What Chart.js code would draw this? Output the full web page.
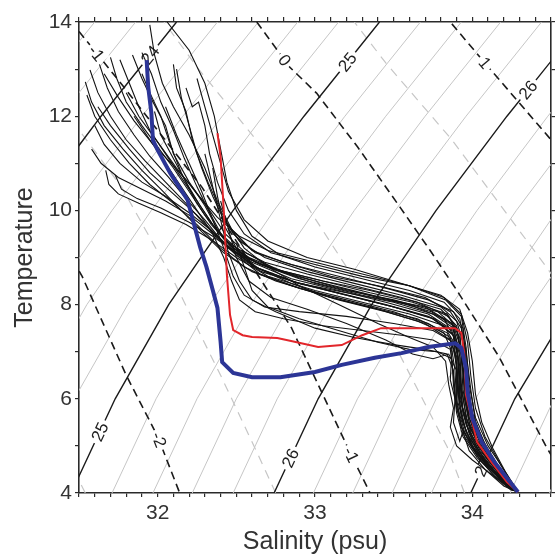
<!DOCTYPE html>
<html>
<head>
<meta charset="utf-8">
<script src="https://cdn.jsdelivr.net/npm/chart.js@4.4.1/dist/chart.umd.min.js"></script>
<style>
  html, body { margin: 0; padding: 0; background: #fff; }
  #wrap { width: 555px; height: 556px; }
</style>
</head>
<body>
<div id="wrap"><canvas id="tsChart" width="555" height="556"></canvas></div>
<script>
// --- DATA: axes ---
const salinityTicks = [32, 33, 34];
const temperatureTicks = [4, 6, 8, 10, 12, 14];

// --- DATA: sigma-t isopycnals, salinity read at these temperatures ---
const isoT = [4, 6, 8, 10, 12, 14];
const sigmaLevels = [23.6, 23.8, 24, 24.2, 24.4, 24.6, 24.8, 25, 25.2, 25.4, 25.6, 25.8,
                     26, 26.2, 26.4, 26.6, 26.8, 27, 27.2, 27.4];
const sigmaSalinity = [
  [29.64, 29.92, 30.26, 30.67, 31.12, 31.60],
  [29.90, 30.18, 30.52, 30.93, 31.38, 31.86],
  [30.16, 30.44, 30.78, 31.19, 31.64, 32.12],
  [30.42, 30.70, 31.04, 31.45, 31.90, 32.38],
  [30.68, 30.96, 31.30, 31.71, 32.16, 32.64],
  [30.93, 31.21, 31.55, 31.96, 32.41, 32.89],
  [31.19, 31.47, 31.81, 32.22, 32.67, 33.15],
  [31.45, 31.73, 32.07, 32.48, 32.93, 33.41],
  [31.71, 31.99, 32.33, 32.74, 33.19, 33.67],
  [31.97, 32.25, 32.59, 33.00, 33.45, 33.93],
  [32.22, 32.50, 32.84, 33.25, 33.70, 34.18],
  [32.48, 32.76, 33.10, 33.51, 33.96, 34.44],
  [32.74, 33.02, 33.36, 33.77, 34.22, 34.70],
  [32.99, 33.27, 33.62, 34.03, 34.48, 34.96],
  [33.24, 33.52, 33.87, 34.28, 34.73, 35.22],
  [33.49, 33.77, 34.13, 34.54, 34.99, 35.47],
  [33.74, 34.02, 34.38, 34.79, 35.25, 35.73],
  [33.99, 34.27, 34.63, 35.04, 35.50, 35.99],
  [34.24, 34.52, 34.89, 35.30, 35.76, 36.25],
  [34.49, 34.77, 35.14, 35.56, 36.02, 36.51]
];

// --- DATA: spiciness lines [S, T] ---
const spiceMajor = {
  '-2': [[31.46, 8.95], [31.52, 8.6], [31.80, 6.5], [32.0, 5.2], [32.14, 4.0]],
  '-1': [[31.5, 13.8], [31.79, 12.6], [32.28, 10.5], [32.85, 7.51], [33.23, 4.81], [33.35, 4.0]],
  '0':  [[32.63, 14.0], [32.84, 13.04], [33.01, 12.49], [33.27, 11.35], [33.54, 10.07], [33.73, 9.16],
         [33.90, 8.31], [34.17, 6.89], [34.47, 4.98], [34.52, 4.7]],
  '1':  [[33.87, 13.96], [34.08, 13.13], [34.5, 11.5], [34.6, 11.2]]
};
const spiceMinor = [
  [[31.54, 4.0], [31.42, 4.8]],
  [[32.75, 4.0], [32.64, 4.8], [32.40, 6.5], [32.08, 8.65], [31.77, 10.5], [31.3, 12.6]],
  [[33.95, 4.0], [33.84, 4.98], [33.45, 7.51], [32.87, 10.5], [32.26, 13.0], [32.04, 14.0]],
  [[34.58, 8.3], [34.39, 9.16], [33.87, 11.5], [33.45, 13.13], [33.25, 14.0]],
  [[34.5, 14.1], [34.7, 13.3]]
];

// --- DATA: contour labels (line + temperature where the label sits) ---
const labelSpots = [
  { text: '24', sigma: 24, t: 13.3 },
  { text: '25', sigma: 25, t: 5.3 },
  { text: '25', sigma: 25, t: 13.15 },
  { text: '26', sigma: 26, t: 4.74 },
  { text: '26', sigma: 26, t: 12.56 },
  { text: '27', sigma: 27, t: 4.55 },
  { text: '-2', spice: '-2', t: 5.13 },
  { text: '-1', spice: '-1', t: 13.34 },
  { text: '-1', spice: '-1', t: 4.81 },
  { text: '0',  spice: '0',  t: 13.19 },
  { text: '1',  spice: '1',  t: 13.13 }
];

// --- DATA: CTD casts [salinity, temperature] ---
const redCast = [[32.38, 11.64], [32.40, 11.13], [32.42, 10.01], [32.44, 8.63], [32.46, 7.78], [32.48, 7.46],
  [32.54, 7.35], [32.60, 7.31], [32.76, 7.29], [32.87, 7.21], [33.02, 7.10], [33.17, 7.14], [33.30, 7.35],
  [33.42, 7.50], [33.63, 7.50], [33.89, 7.50], [33.93, 7.40], [33.95, 6.93], [33.96, 6.08], [34.0, 5.51],
  [34.03, 5.08], [34.12, 4.66], [34.22, 4.23], [34.29, 4.02]];

const blueCast = [[31.93, 13.19], [31.94, 12.62], [31.96, 12.07], [31.97, 11.49], [32.0, 11.28], [32.08, 10.79],
  [32.19, 10.22], [32.27, 9.22], [32.31, 8.80], [32.35, 8.31], [32.38, 7.93], [32.40, 7.21], [32.41, 6.78],
  [32.48, 6.55], [32.60, 6.46], [32.78, 6.46], [33.0, 6.57], [33.17, 6.72], [33.38, 6.87], [33.55, 6.97],
  [33.72, 7.10], [33.89, 7.18], [33.93, 7.08], [33.96, 6.65], [33.97, 6.14], [34.0, 5.59], [34.06, 5.08],
  [34.14, 4.66], [34.22, 4.32], [34.29, 4.02]];

const blackCasts = [
  [[32.06,14.0],[32.2,13.4],[32.3,12.7],[32.36,12.0],[32.4,11.3],[32.44,10.6],[32.5,10.0],[32.6,9.45],[32.78,9.05],[33.0,8.8],[33.3,8.55],[33.6,8.3],[33.82,8.05],[33.92,7.7],[33.96,7.0],[33.99,6.2],[34.02,5.5],[34.1,4.9],[34.2,4.4],[34.29,4.02]],
  [[31.95,13.94],[31.98,13.3],[32.03,12.7],[32.1,12.2],[32.2,11.6],[32.3,10.9],[32.38,10.2],[32.47,9.6],[32.6,9.15],[32.8,8.9],[33.1,8.6],[33.4,8.4],[33.7,8.15],[33.86,7.85],[33.93,7.5],[33.95,6.8],[33.97,6.0],[34.03,5.3],[34.12,4.75],[34.22,4.3],[34.28,4.05]],
  [[31.9,13.35],[31.96,12.9],[32.02,12.3],[32.1,11.7],[32.17,11.1],[32.25,10.5],[32.33,9.95],[32.42,9.4],[32.55,9.0],[32.75,8.75],[33.05,8.5],[33.35,8.3],[33.65,8.05],[33.85,7.75],[33.92,7.3],[33.94,6.6],[33.96,5.9],[34.02,5.3],[34.1,4.8],[34.2,4.35],[34.28,4.05]],
  [[31.84,13.3],[31.9,12.8],[31.97,12.3],[32.05,11.8],[32.1,11.2],[32.2,10.6],[32.3,10.1],[32.38,9.6],[32.5,9.1],[32.7,8.8],[33.0,8.45],[33.3,8.2],[33.6,8.0],[33.82,7.7],[33.9,7.2],[33.92,6.5],[33.94,5.8],[34.0,5.2],[34.1,4.7],[34.2,4.3],[34.27,4.05]],
  [[31.76,13.2],[31.82,12.7],[31.88,12.2],[31.95,11.7],[32.05,11.2],[32.15,10.7],[32.25,10.2],[32.35,9.7],[32.48,9.2],[32.65,8.85],[32.9,8.55],[33.2,8.3],[33.5,8.1],[33.78,7.85],[33.9,7.5],[33.93,6.9],[33.94,6.2],[33.98,5.5],[34.06,4.9],[34.17,4.4],[34.27,4.05]],
  [[31.7,13.25],[31.74,12.8],[31.8,12.3],[31.9,11.8],[32.0,11.35],[32.1,10.9],[32.2,10.4],[32.3,9.9],[32.42,9.4],[32.58,9.0],[32.8,8.7],[33.1,8.4],[33.4,8.15],[33.7,7.95],[33.87,7.6],[33.92,7.0],[33.93,6.3],[33.96,5.6],[34.04,5.0],[34.15,4.5],[34.26,4.08]],
  [[31.63,13.1],[31.68,12.6],[31.75,12.1],[31.85,11.6],[31.95,11.15],[32.07,10.7],[32.18,10.25],[32.3,9.8],[32.42,9.3],[32.6,8.9],[32.85,8.55],[33.15,8.3],[33.45,8.05],[33.72,7.8],[33.88,7.45],[33.91,6.8],[33.92,6.0],[33.97,5.4],[34.05,4.9],[34.16,4.45],[34.27,4.05]],
  [[31.57,12.98],[31.62,12.5],[31.7,12.0],[31.8,11.5],[31.92,11.05],[32.05,10.6],[32.18,10.15],[32.3,9.7],[32.45,9.2],[32.62,8.8],[32.9,8.45],[33.2,8.2],[33.5,7.95],[33.75,7.7],[33.88,7.35],[33.9,6.7],[33.92,5.9],[33.96,5.3],[34.04,4.85],[34.15,4.4],[34.26,4.05]],
  [[31.54,12.73],[31.58,12.3],[31.66,11.8],[31.78,11.3],[31.9,10.85],[32.02,10.45],[32.15,10.0],[32.28,9.55],[32.42,9.1],[32.6,8.7],[32.85,8.4],[33.15,8.1],[33.45,7.85],[33.7,7.6],[33.86,7.25],[33.89,6.6],[33.9,5.9],[33.95,5.3],[34.03,4.8],[34.14,4.35],[34.25,4.05]],
  [[31.55,12.45],[31.6,12.0],[31.7,11.5],[31.82,11.0],[31.95,10.55],[32.1,10.15],[32.25,9.7],[32.4,9.2],[32.55,8.8],[32.75,8.5],[33.05,8.2],[33.35,7.95],[33.65,7.7],[33.84,7.4],[33.9,6.9],[33.91,6.2],[33.93,5.6],[34.0,5.0],[34.1,4.55],[34.22,4.2],[34.28,4.03]],
  [[31.67,10.85],[31.69,10.55],[31.75,10.35],[31.88,10.15],[32.02,9.95],[32.18,9.7],[32.33,9.4],[32.5,9.0],[32.7,8.6],[33.0,8.3],[33.3,8.05],[33.6,7.8],[33.82,7.55],[33.9,7.1],[33.92,6.4],[33.94,5.7],[34.0,5.1],[34.1,4.6],[34.22,4.2],[34.28,4.03]],
  [[31.73,10.75],[31.77,10.45],[31.87,10.25],[32.02,10.05],[32.2,9.75],[32.35,9.45],[32.5,9.1],[32.65,8.75],[32.9,8.45],[33.2,8.2],[33.5,7.95],[33.76,7.7],[33.88,7.35],[33.92,6.7],[33.93,5.9],[33.98,5.25],[34.07,4.75],[34.18,4.3],[34.27,4.04]],
  [[31.6,11.8],[31.66,11.4],[31.76,11.0],[31.9,10.6],[32.05,10.3],[32.2,9.95],[32.35,9.55],[32.48,9.15],[32.62,8.8],[32.85,8.5],[33.15,8.25],[33.45,8.0],[33.72,7.75],[33.87,7.45],[33.91,6.9],[33.92,6.1],[33.96,5.45],[34.04,4.9],[34.15,4.45],[34.26,4.06]],
  [[32.1,13.1],[32.12,12.6],[32.18,12.1],[32.22,11.5],[32.28,10.9],[32.35,10.3],[32.42,9.8],[32.52,9.35],[32.68,9.0],[32.95,8.7],[33.25,8.45],[33.55,8.2],[33.8,7.95],[33.9,7.65],[33.95,7.1],[33.97,6.4],[34.0,5.7],[34.07,5.1],[34.17,4.55],[34.27,4.07]],
  [[32.18,12.6],[32.22,12.2],[32.26,12.3],[32.3,11.8],[32.33,11.2],[32.38,10.6],[32.45,10.0],[32.55,9.5],[32.72,9.1],[33.0,8.85],[33.3,8.6],[33.6,8.4],[33.82,8.15],[33.93,7.8],[33.97,7.2],[33.99,6.5],[34.02,5.8],[34.08,5.2],[34.18,4.6],[34.27,4.1]],
  [[31.98,12.1],[32.02,11.6],[32.1,11.1],[32.18,10.6],[32.27,10.1],[32.37,9.6],[32.5,9.2],[32.68,8.9],[32.95,8.65],[33.25,8.4],[33.55,8.15],[33.8,7.9],[33.9,7.55],[33.93,6.95],[33.95,6.3],[33.98,5.6],[34.05,5.05],[34.15,4.55],[34.26,4.1]],
  [[32.05,12.2],[32.12,11.6],[32.2,11.0],[32.28,10.4],[32.35,9.8],[32.42,9.2],[32.48,8.6],[32.55,8.2],[32.68,7.95],[32.9,7.85],[33.2,7.75],[33.5,7.6],[33.75,7.45],[33.88,7.2],[33.9,6.6],[33.91,5.9],[33.96,5.3],[34.05,4.8],[34.17,4.35],[34.26,4.06]],
  [[31.85,12.0],[31.95,11.5],[32.05,11.0],[32.15,10.5],[32.25,10.0],[32.35,9.5],[32.42,9.0],[32.47,8.5],[32.52,8.1],[32.62,7.85],[32.8,7.7],[33.05,7.55],[33.3,7.45],[33.55,7.35],[33.75,7.25],[33.86,7.05],[33.88,6.5],[33.9,5.8],[33.95,5.2],[34.05,4.7],[34.18,4.3],[34.27,4.04]],
  [[32.3,11.2],[32.35,10.5],[32.4,9.8],[32.45,9.1],[32.52,8.5],[32.6,8.1],[32.75,7.85],[33.0,7.5],[33.25,7.3],[33.5,7.15],[33.7,7.05],[33.84,6.95],[33.88,6.6],[33.89,6.0],[33.93,5.4],[34.02,4.9],[34.13,4.45],[34.25,4.08]],
  [[32.4,10.2],[32.45,9.6],[32.5,9.0],[32.58,8.5],[32.72,8.15],[32.95,7.9],[33.2,7.6],[33.45,7.25],[33.62,6.95],[33.75,6.85],[33.85,6.95],[33.9,6.6],[33.9,6.0],[33.93,5.4],[34.0,4.95],[34.1,4.55],[34.22,4.2],[34.28,4.03]],
  [[32.45,9.7],[32.55,9.2],[32.7,8.8],[32.9,8.4],[33.15,8.0],[33.4,7.6],[33.6,7.3],[33.75,7.1],[33.83,6.8],[33.85,6.3],[33.88,5.8],[33.86,5.4],[33.9,5.0],[34.0,4.7],[34.12,4.4],[34.24,4.1]],
  [[32.25,12.8],[32.3,12.2],[32.35,11.6],[32.4,11.0],[32.45,10.4],[32.55,9.8],[32.7,9.35],[32.95,9.0],[33.25,8.75],[33.55,8.45],[33.8,8.2],[33.92,7.9],[33.97,7.4],[34.0,6.8],[34.02,6.1],[34.06,5.5],[34.13,4.95],[34.21,4.45],[34.29,4.03]],
  [[31.8,12.5],[31.88,12.0],[32.0,11.45],[32.12,10.9],[32.25,10.35],[32.38,9.85],[32.52,9.45],[32.7,9.15],[33.0,8.9],[33.3,8.65],[33.6,8.4],[33.83,8.1],[33.93,7.75],[33.96,7.1],[33.98,6.3],[34.02,5.6],[34.1,5.0],[34.2,4.5],[34.28,4.06]],
  [[31.62,12.2],[31.7,11.8],[31.82,11.3],[31.95,10.8],[32.1,10.35],[32.25,9.9],[32.38,9.45],[32.5,9.05],[32.65,8.65],[32.9,8.35],[33.2,8.1],[33.5,7.85],[33.72,7.6],[33.86,7.3],[33.9,6.75],[33.91,6.1],[33.94,5.5],[34.0,5.0],[34.1,4.55],[34.22,4.15],[34.28,4.03]],
  [[31.66,12.9],[31.75,12.4],[31.85,11.9],[31.97,11.4],[32.1,10.95],[32.22,10.5],[32.33,10.0],[32.43,9.5],[32.56,9.1],[32.75,8.75],[33.05,8.5],[33.35,8.25],[33.62,8.05],[33.84,7.8],[33.92,7.4],[33.94,6.7],[33.95,6.0],[33.99,5.35],[34.08,4.85],[34.19,4.4],[34.27,4.05]],
  [[32.35,10.9],[32.38,10.3],[32.42,9.7],[32.5,9.2],[32.62,8.8],[32.85,8.45],[33.1,8.15],[33.4,7.9],[33.65,7.65],[33.82,7.4],[33.87,7.0],[33.86,6.4],[33.89,6.0],[33.88,5.5],[33.92,5.1],[33.94,5.3],[33.98,4.9],[34.08,4.5],[34.2,4.15],[34.27,4.04]],
  [[31.58,11.3],[31.64,11.0],[31.75,10.7],[31.9,10.45],[32.05,10.2],[32.2,9.9],[32.35,9.5],[32.5,9.05],[32.66,8.7],[32.9,8.45],[33.2,8.25],[33.5,8.05],[33.75,7.8],[33.88,7.5],[33.92,6.9],[33.93,6.2],[33.97,5.5],[34.05,4.95],[34.16,4.45],[34.27,4.05]],
  [[32.12,13.0],[32.15,12.4],[32.2,11.8],[32.25,11.2],[32.32,10.6],[32.4,10.0],[32.48,9.5],[32.62,9.1],[32.85,8.85],[33.15,8.6],[33.45,8.35],[33.72,8.1],[33.88,7.85],[33.94,7.5],[33.96,6.8],[33.97,6.0],[34.01,5.4],[34.09,4.85],[34.19,4.4],[34.28,4.04]],
  [[31.9,12.9],[31.95,12.5],[32.02,12.0],[32.08,11.4],[32.15,10.8],[32.24,10.2],[32.34,9.7],[32.46,9.25],[32.62,8.9],[32.88,8.6],[33.18,8.35],[33.48,8.1],[33.74,7.85],[33.88,7.55],[33.93,7.05],[33.95,6.35],[33.97,5.7],[34.03,5.1],[34.13,4.6],[34.24,4.15],[34.29,4.03]],
  [[32.5,9.3],[32.55,8.8],[32.6,8.3],[32.7,7.95],[32.9,7.7],[33.15,7.45],[33.4,7.2],[33.6,7.05],[33.78,7.0],[33.87,6.85],[33.88,6.3],[33.9,5.7],[33.94,5.2],[34.03,4.75],[34.15,4.35],[34.26,4.05]]
];

// --- STYLE ---
const FONT = '"Liberation Sans", Arial, Helvetica, sans-serif';
const TEXT_COLOR = '#333';
const AXIS_COLOR = '#2a2a2a';

// --- HELPERS ---
const toXY = pts => pts.map(([s, t]) => ({ x: s, y: t }));
const sigmaPts = i => isoT.map((t, k) => [sigmaSalinity[i][k], t]);

function lineFor(spot) {
  if (spot.sigma !== undefined) return sigmaPts(sigmaLevels.indexOf(spot.sigma));
  return spiceMajor[spot.spice];
}

function findOnLine(pts, t) {
  for (let i = 0; i < pts.length - 1; i++) {
    const [s0, t0] = pts[i], [s1, t1] = pts[i + 1];
    if (t0 !== t1 && (t - t0) * (t - t1) <= 0) {
      const f = (t - t0) / (t1 - t0);
      return { s: s0 + f * (s1 - s0), a: pts[i], b: pts[i + 1] };
    }
  }
  return null;
}

function lineSet(pts, color, width, order, dash) {
  return {
    data: toXY(pts), showLine: true, borderColor: color, borderWidth: width,
    borderDash: dash || [], pointRadius: 0, fill: false, order: order, clip: 0
  };
}

// --- DATASETS ---
const datasets = [];
sigmaLevels.forEach((lev, i) => {
  const major = Number.isInteger(lev);
  datasets.push(lineSet(sigmaPts(i), major ? '#1a1a1a' : '#c6c6c6', major ? 1.4 : 1, major ? 10 : 12));
});
Object.values(spiceMajor).forEach(pts => datasets.push(lineSet(pts, '#1a1a1a', 1.6, 10, [8, 5])));
spiceMinor.forEach(pts => datasets.push(lineSet(pts, '#c6c6c6', 1.2, 12, [9, 7])));
datasets.push({ label: 'labelLayer', data: [], order: 5 });
blackCasts.forEach(pts => datasets.push(lineSet(pts, '#121212', 1.1, 3)));
datasets.push(lineSet(redCast, '#e2262b', 2, 2));
datasets.push(lineSet(blueCast, '#2c3596', 4, 1));

// --- PLUGIN: contour labels, drawn after contours and before casts ---
const contourLabels = {
  id: 'contourLabels',
  afterDatasetDraw(chart, args) {
    if (chart.data.datasets[args.index].label !== 'labelLayer') return;
    const { ctx, chartArea: area, scales: { x, y } } = chart;
    ctx.save();
    ctx.beginPath();
    ctx.rect(area.left, area.top, area.right - area.left, area.bottom - area.top);
    ctx.clip();
    ctx.font = '17px ' + FONT;
    ctx.textAlign = 'center';
    ctx.textBaseline = 'middle';
    labelSpots.forEach(spot => {
      const hit = findOnLine(lineFor(spot), spot.t);
      if (!hit) return;
      const px = x.getPixelForValue(hit.s), py = y.getPixelForValue(spot.t);
      let dx = x.getPixelForValue(hit.b[0]) - x.getPixelForValue(hit.a[0]);
      let dy = y.getPixelForValue(hit.b[1]) - y.getPixelForValue(hit.a[1]);
      if (dx < 0) { dx = -dx; dy = -dy; }
      ctx.save();
      ctx.translate(px, py);
      ctx.rotate(Math.atan2(dy, dx));
      const w = ctx.measureText(spot.text).width + 6;
      ctx.fillStyle = '#fff';
      ctx.fillRect(-w / 2, -8, w, 16);
      ctx.fillStyle = '#222';
      ctx.fillText(spot.text, 0, 1);
      ctx.restore();
    });
    ctx.restore();
  }
};

// --- AXES ---
function stepTicks(min, count, step) {
  return scale => {
    const t = [];
    for (let i = 0; i <= count; i++) t.push({ value: +(min + i * step).toFixed(2) });
    scale.ticks = t;
  };
}
const isLabel = (v, list) => list.some(m => Math.abs(m - v) < 1e-6);
const tickFont = { family: FONT, size: 21 };
const grid = { drawOnChartArea: false, drawTicks: true, tickLength: 4, color: AXIS_COLOR, lineWidth: 1.2 };
const border = { display: true, color: AXIS_COLOR, width: 1.6 };

new Chart(document.getElementById('tsChart'), {
  type: 'scatter',
  data: { datasets },
  options: {
    responsive: false,
    animation: false,
    events: [],
    layout: { padding: 0 },
    plugins: { legend: { display: false }, tooltip: { enabled: false } },
    scales: {
      x: {
        type: 'linear', position: 'bottom', min: 31.5, max: 34.5,
        afterBuildTicks: stepTicks(31.5, 30, 0.1),
        ticks: { autoSkip: false, maxRotation: 0, padding: 4, font: tickFont, color: TEXT_COLOR,
                 callback: v => isLabel(v, salinityTicks) ? String(Math.round(v)) : '' },
        grid, border,
        title: { display: true, text: 'Salinity (psu)', color: TEXT_COLOR,
                 font: { family: FONT, size: 25, lineHeight: 1 }, padding: { top: 0, bottom: 1 } },
        afterFit: s => { s.height = 63; }
      },
      xTop: {
        type: 'linear', position: 'top', axis: 'x', min: 31.5, max: 34.5,
        afterBuildTicks: stepTicks(31.5, 30, 0.1),
        ticks: { autoSkip: false, callback: () => '' },
        grid: { ...grid, tickLength: 5 }, border,
        afterFit: s => { s.height = 22; }
      },
      y: {
        type: 'linear', position: 'left', min: 4, max: 14,
        afterBuildTicks: stepTicks(4, 10, 1),
        ticks: { autoSkip: false, padding: 3, font: tickFont, color: TEXT_COLOR,
                 callback: v => isLabel(v, temperatureTicks) ? String(Math.round(v)) : '' },
        grid, border,
        title: { display: true, text: 'Temperature', color: TEXT_COLOR,
                 font: { family: FONT, size: 25, lineHeight: 1 }, padding: { top: 13, bottom: 0 } },
        afterFit: s => { s.width = 79; }
      },
      yRight: {
        type: 'linear', position: 'right', axis: 'y', min: 4, max: 14,
        afterBuildTicks: stepTicks(4, 10, 1),
        ticks: { autoSkip: false, callback: () => '' },
        grid, border,
        afterFit: s => { s.width = 4; }
      }
    }
  },
  plugins: [contourLabels]
});
</script>
</body>
</html>
